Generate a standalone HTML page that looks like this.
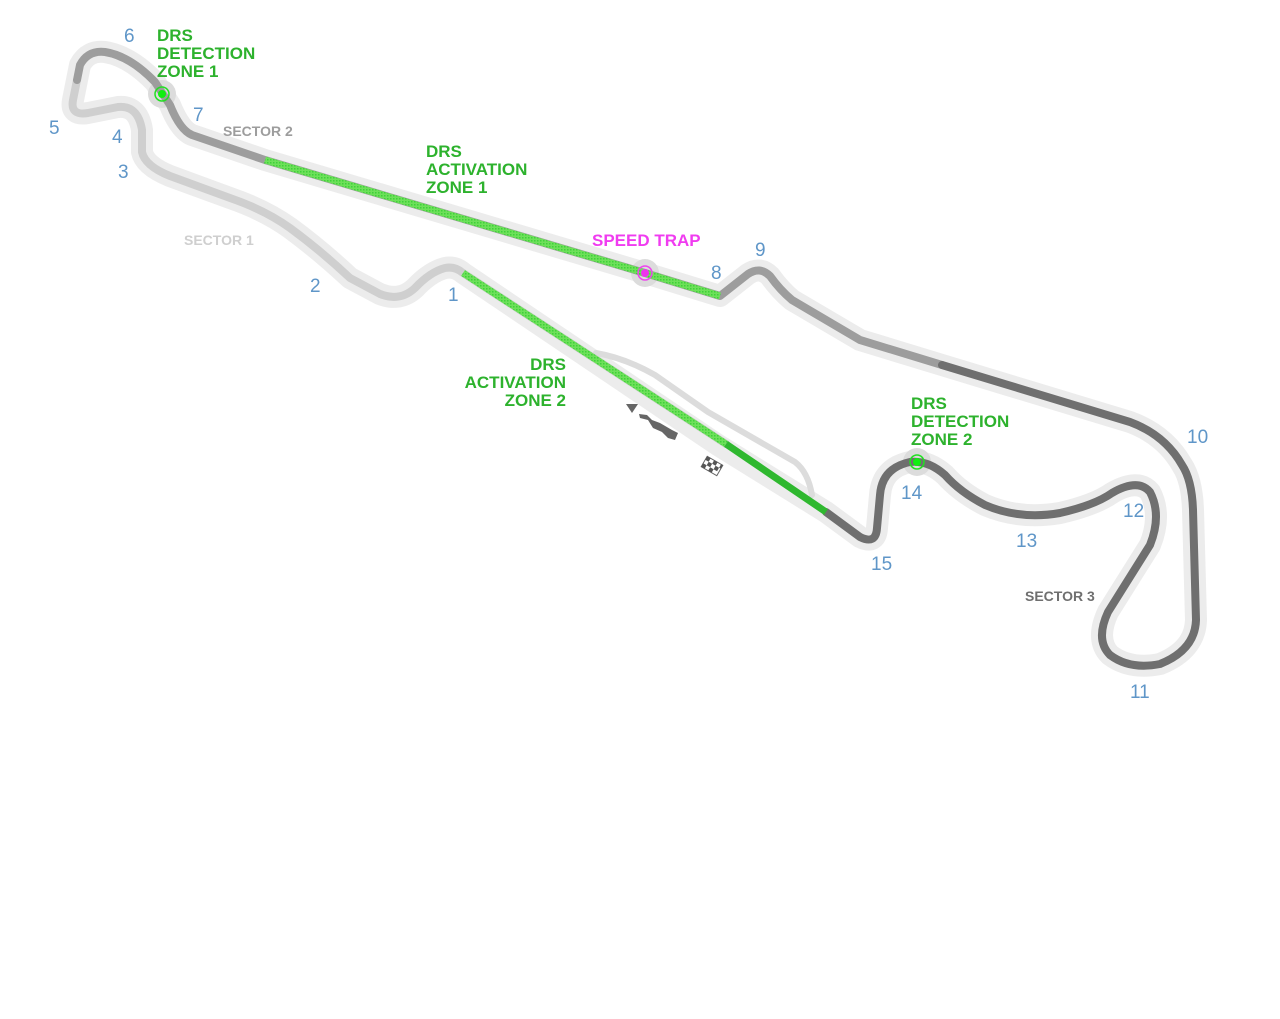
<!DOCTYPE html>
<html><head><meta charset="utf-8"><style>
html,body{margin:0;padding:0;background:#fff;}
svg{display:block}
text{font-family:"Liberation Sans",sans-serif}
.n{fill:#5f96c8;font-size:19px}
.g{fill:#2db22d;font-size:17px;font-weight:bold}
.s{font-size:14px;font-weight:bold}
</style></head><body>
<svg width="1280" height="1019" viewBox="0 0 1280 1019" xmlns="http://www.w3.org/2000/svg">
<defs>
<pattern id="hatch" width="3" height="3" patternUnits="userSpaceOnUse">
<rect width="3" height="3" fill="#6ee05a"/><rect width="1.5" height="1.5" fill="#3fd13a"/>
</pattern>
</defs>
<g fill="none" stroke-linecap="round" stroke-linejoin="round">
<!-- halo -->
<g stroke="#ececec" stroke-width="22">
<path d="M718,445 L463,273 Q455,266 445,268 Q430,272 415,288 Q400,302 380,294 L350,278 Q320,250 290,228 Q265,210 230,198 L170,176 Q145,166 142,152 L142,130 Q138,105 118,107 L88,113 Q70,116 73,100 L80,65 Q88,50 105,52 Q130,56 155,82 L170,105 Q180,130 192,135 L265,160 L645,273 L720,296 L748,274 Q760,266 770,276 Q780,290 792,300 L860,340 L942,365 L1130,422 Q1165,435 1182,465 Q1192,480 1193,510 L1196,620 Q1195,650 1160,664 Q1130,670 1110,655 Q1095,640 1108,612 L1150,545 Q1162,515 1150,492 Q1138,478 1112,493 Q1095,505 1060,513 Q1020,520 985,505 Q960,492 945,475 Q928,460 910,462 Q882,468 880,495 L877,528 Q876,545 860,537 L826,512 L718,445"/>
</g>
<circle cx="162" cy="94" r="14" fill="#dcdcdc" stroke="none"/>
<circle cx="645" cy="273" r="14" fill="#dcdcdc" stroke="none"/>
<circle cx="917" cy="462" r="14" fill="#dcdcdc" stroke="none"/>
<!-- pit lane -->
<path d="M596,353 Q625,358 655,375 L708,412 L795,462 Q808,472 812,495" stroke="#dcdcdc" stroke-width="6"/>
<!-- sector 1 -->
<path d="M726,444 L463,273 Q455,266 445,268 Q430,272 415,288 Q400,302 380,294 L350,278 Q320,250 290,228 Q265,210 230,198 L170,176 Q145,166 142,152 L142,130 Q138,105 118,107 L88,113 Q70,116 73,100 L77,80" stroke="#cfcfcf" stroke-width="8"/>
<!-- sector 2 -->
<path d="M77,80 L80,65 Q88,50 105,52 Q130,56 155,82 L170,105 Q180,130 192,135 L265,160 L645,273 L720,296 L748,274 Q760,266 770,276 Q780,290 792,300 L860,340 L942,365" stroke="#9d9d9d" stroke-width="8"/>
<!-- sector 3 -->
<path d="M942,365 L1130,422 Q1165,435 1182,465 Q1192,480 1193,510 L1196,620 Q1195,650 1160,664 Q1130,670 1110,655 Q1095,640 1108,612 L1150,545 Q1162,515 1150,492 Q1138,478 1112,493 Q1095,505 1060,513 Q1020,520 985,505 Q960,492 945,475 Q928,460 910,462 Q882,468 880,495 L877,528 Q876,545 860,537 L826,512" stroke="#6f6f6f" stroke-width="8"/>
<!-- DRS zones -->
<path d="M265,160 L645,273 L720,296" stroke="url(#hatch)" stroke-width="7" stroke-linecap="butt"/>
<path d="M463,273 L726,444" stroke="url(#hatch)" stroke-width="7" stroke-linecap="butt"/>
<path d="M726,444 L826,512" stroke="#2fb82f" stroke-width="7" stroke-linecap="butt"/>
</g>
<!-- markers -->
<circle cx="162" cy="94" r="7" fill="none" stroke="#22e022" stroke-width="1.5"/>
<circle cx="162" cy="94" r="4" fill="#11ee11"/>
<circle cx="917" cy="462" r="7" fill="none" stroke="#22e022" stroke-width="1.5"/>
<circle cx="917" cy="462" r="4" fill="#11ee11"/>
<circle cx="645" cy="273" r="7" fill="none" stroke="#ee44ee" stroke-width="1.5"/>
<circle cx="645" cy="273" r="4" fill="#ee33ee"/>
<!-- pit icons -->
<path d="M626,404 L638,404 L632,413 Z" fill="#666"/>
<path d="M639,414 L647,415 L652,420 L660,423 L672,430 L678,433 L675,440 L668,438 L662,432 L653,428 L648,420 L640,418 Z" fill="#666"/>
<g transform="translate(712,466) rotate(30)" fill="#555">
<rect x="-9" y="-6" width="18" height="12" fill="#fff" stroke="#666" stroke-width="1"/>
<rect x="-9" y="-6" width="4" height="4"/><rect x="-1" y="-6" width="4" height="4"/><rect x="7" y="-6" width="2" height="4"/>
<rect x="-5" y="-2" width="4" height="4"/><rect x="3" y="-2" width="4" height="4"/>
<rect x="-9" y="2" width="4" height="4"/><rect x="-1" y="2" width="4" height="4"/>
</g>
<!-- corner numbers -->
<text class="n" x="124" y="42">6</text>
<text class="n" x="193" y="121">7</text>
<text class="n" x="49" y="134">5</text>
<text class="n" x="112" y="143">4</text>
<text class="n" x="118" y="178">3</text>
<text class="n" x="310" y="292">2</text>
<text class="n" x="448" y="301">1</text>
<text class="n" x="711" y="279">8</text>
<text class="n" x="755" y="256">9</text>
<text class="n" x="1187" y="443">10</text>
<text class="n" x="1130" y="698">11</text>
<text class="n" x="1123" y="517">12</text>
<text class="n" x="1016" y="547">13</text>
<text class="n" x="901" y="499">14</text>
<text class="n" x="871" y="570">15</text>
<!-- sector labels -->
<text class="s" x="223" y="136" fill="#9d9d9d">SECTOR 2</text>
<text class="s" x="184" y="245" fill="#cfcfcf">SECTOR 1</text>
<text class="s" x="1025" y="601" fill="#6f6f6f">SECTOR 3</text>
<!-- DRS labels -->
<text class="g" x="157" y="41">DRS</text>
<text class="g" x="157" y="59">DETECTION</text>
<text class="g" x="157" y="77">ZONE 1</text>
<text class="g" x="426" y="157">DRS</text>
<text class="g" x="426" y="175">ACTIVATION</text>
<text class="g" x="426" y="193">ZONE 1</text>
<text class="g" x="566" y="370" text-anchor="end">DRS</text>
<text class="g" x="566" y="388" text-anchor="end">ACTIVATION</text>
<text class="g" x="566" y="406" text-anchor="end">ZONE 2</text>
<text class="g" x="911" y="409">DRS</text>
<text class="g" x="911" y="427">DETECTION</text>
<text class="g" x="911" y="445">ZONE 2</text>
<text class="g" x="592" y="246" style="fill:#f03cf0">SPEED TRAP</text>
</svg>
</body></html>
